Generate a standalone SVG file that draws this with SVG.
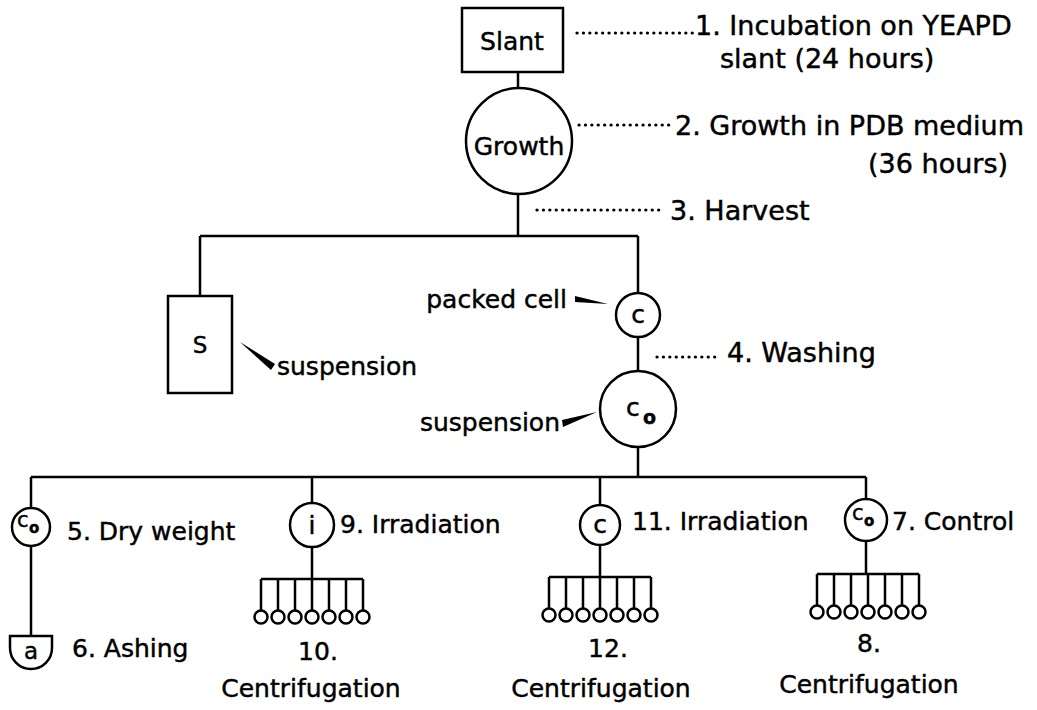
<svg xmlns="http://www.w3.org/2000/svg" width="1037" height="710" viewBox="0 0 1037 710">
<style>
.ln{stroke:#000;stroke-width:2.5;fill:none}
.dot{stroke:#000;stroke-width:3.2;stroke-linecap:round;stroke-dasharray:0.1 6.3;fill:none}
.nd{stroke:#000;stroke-width:2.5;fill:#fff}
.t{font-family:"DejaVu Sans",sans-serif;fill:#000;stroke:#000;stroke-width:0.45;font-size:25px}
.tt{font-family:"DejaVu Sans",sans-serif;fill:#000;stroke:#000;stroke-width:0.45;font-size:27px}
.c{text-anchor:middle}
.w{fill:#000;stroke:none}
</style>
<defs>
<g id="comb">
<path class="ln" d="M-51,0 H51 M-51,0 V31.5 M-34,0 V31.5 M-17,0 V31.5 M0,0 V31.5 M17,0 V31.5 M34,0 V31.5 M51,0 V31.5"/>
<g class="nd">
<circle cx="-51" cy="38" r="6.5"/><circle cx="-34" cy="38" r="6.5"/><circle cx="-17" cy="38" r="6.5"/><circle cx="0" cy="38" r="6.5"/><circle cx="17" cy="38" r="6.5"/><circle cx="34" cy="38" r="6.5"/><circle cx="51" cy="38" r="6.5"/>
</g>
</g>
</defs>
<rect width="1037" height="710" fill="#fff"/>
<g id="connectors">
<path class="ln" d="M518,72 V88 M518,194 V236 M200,236 H638 M200,236 V296 M638,236 V293 M638,337 V371 M638,447 V477 M31,477 H866 M31,477 V508 M31,546 V636 M312,477 V503 M312,547 V579 M600,477 V505 M600,545 V577 M866,477 V499 M866,541 V574"/>
<path class="dot" d="M577,33 H693 M579,125 H673 M537,210 H662 M657,357 H718"/>
<polygon class="w" points="240,342 275,364 271,370"/>
<polygon class="w" points="575,296 608,304 575,302"/>
<polygon class="w" points="562,420 597,412 563,427"/>
</g>
<g id="slant"><rect class="nd" x="462" y="8" width="101" height="64"/><text class="t c" x="512" y="50">Slant</text></g>
<g id="growth"><circle class="nd" cx="519" cy="141" r="53"/><text class="t c" x="519" y="155">Growth</text></g>
<g id="s-box"><rect class="nd" x="168" y="296" width="64" height="97"/><text class="t c" x="200" y="353" style="font-size:23px">S</text></g>
<g id="packed-c"><circle class="nd" cx="638" cy="315" r="22"/><text class="t c" x="638" y="323">c</text></g>
<g id="c0-main"><circle class="nd" cx="638" cy="409" r="38"/><text class="t" x="626" y="416" style="font-size:25px">c</text><text class="t" x="643" y="424" style="font-size:19px;font-weight:bold">o</text></g>
<g id="dry"><circle class="nd" cx="31" cy="527" r="19"/><text class="t" x="17" y="527" style="font-size:21px">c</text><text class="t" x="29" y="533" style="font-size:15px;font-weight:bold">o</text></g>
<g id="ash"><path class="nd" d="M10,636 H52 V648 A21,21 0 0,1 10,648 Z"/><text class="t c" x="31" y="659" style="font-size:23px">a</text></g>
<g id="irr-i"><circle class="nd" cx="312" cy="525" r="22"/><text class="t c" x="312" y="534">i</text><use href="#comb" x="312" y="579"/></g>
<g id="irr-c"><circle class="nd" cx="600" cy="525" r="20"/><text class="t c" x="600" y="533">c</text><use href="#comb" x="600" y="577"/></g>
<g id="control"><circle class="nd" cx="866" cy="520" r="21"/><text class="t" x="852" y="520" style="font-size:21px">c</text><text class="t" x="864" y="526" style="font-size:15px;font-weight:bold">o</text><use href="#comb" x="868" y="574"/></g>
<g id="labels">
<text class="tt" x="695" y="35">1. Incubation on YEAPD</text>
<text class="tt" x="720" y="68">slant (24 hours)</text>
<text class="tt" x="675" y="135">2. Growth in PDB medium</text>
<text class="tt" x="1008" y="173" text-anchor="end">(36 hours)</text>
<text class="tt" x="670" y="220">3. Harvest</text>
<text class="t" x="277" y="375">suspension</text>
<text class="t" x="567" y="308" text-anchor="end">packed cell</text>
<text class="tt" x="727" y="362">4. Washing</text>
<text class="t" x="560" y="431" text-anchor="end">suspension</text>
<text class="t" x="67" y="540">5. Dry weight</text>
<text class="t" x="72" y="657">6. Ashing</text>
<text class="t" x="340" y="533">9. Irradiation</text>
<text class="t c" x="318" y="660">10.</text>
<text class="t c" x="311" y="697">Centrifugation</text>
<text class="t" x="632" y="530">11. Irradiation</text>
<text class="t c" x="608" y="657">12.</text>
<text class="t c" x="601" y="697">Centrifugation</text>
<text class="t" x="892" y="530">7. Control</text>
<text class="t c" x="869" y="652">8.</text>
<text class="t c" x="869" y="693">Centrifugation</text>
</g>
</svg>
